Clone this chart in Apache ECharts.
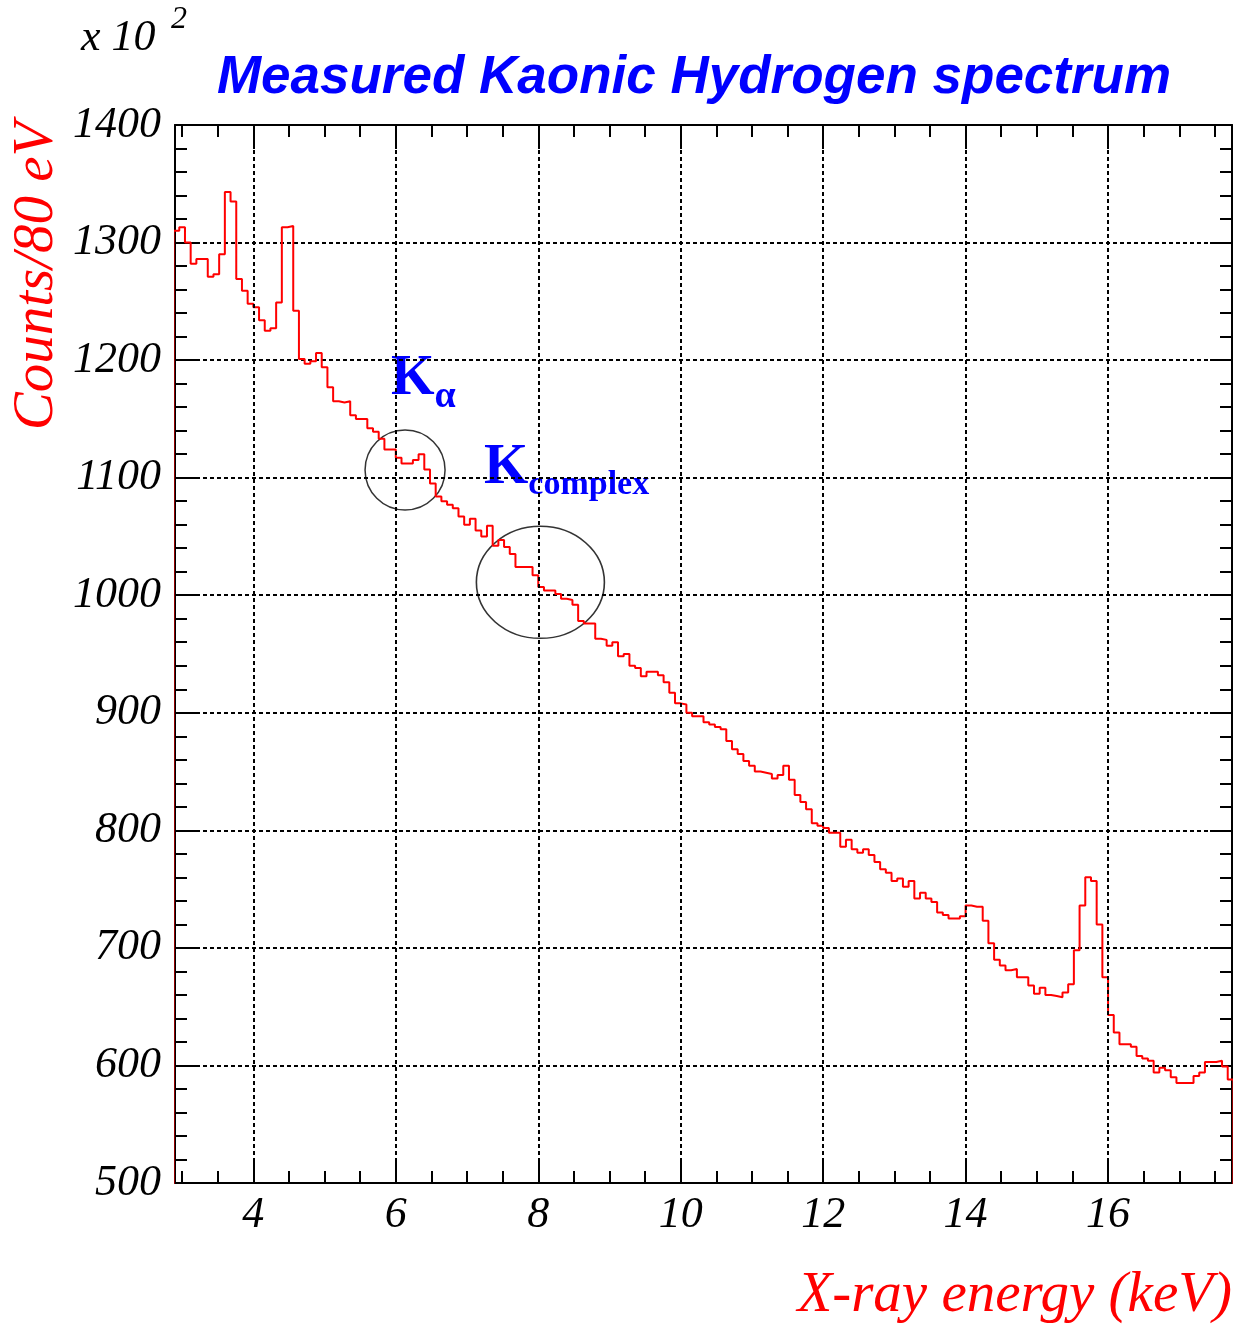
<!DOCTYPE html>
<html>
<head>
<meta charset="utf-8">
<script src="https://cdn.jsdelivr.net/npm/echarts@6/dist/echarts.min.js"></script>
<style>
html,body{margin:0;padding:0;background:#ffffff;}
#c{width:1235px;height:1324px;}
</style>
</head>
<body>
<div id="c"></div>
<script>
// ---- data (counts per 80 eV bin, in units of 10^2) ----
const binStart = 2.88;   // keV, left edge of first bin
const binWidth = 0.08;   // keV
const counts = [
  1310,1313,1300,1282,1286,1286,1271,1273,1290,1343,
  1335,1269,1259,1248,1245,1234,1225,1227,1249,1313,
  1314,1242,1201,1197,1199,1206,1194,1177,1165,1164,
  1165,1153,1150,1150,1142,1139,1133,1124,1124,1117,
  1112,1112,1115,1120,1107,1095,1084,1080,1077,1074,
  1067,1060,1065,1055,1050,1059,1042,1047,1041,1035,
  1024,1024,1024,1017,1007,1004,1004,1001,997,996,
  992,978,976,976,963,962,957,960,948,950,
  940,938,931,935,935,932,926,917,908,907,
  900,897,897,892,890,888,886,876,869,865,
  859,855,850,849,848,844,847,855,843,830,
  824,818,806,804,802,798,798,786,792,784,
  781,784,779,773,767,764,757,759,752,757,
  742,747,742,739,730,728,725,725,727,736,
  735,735,723,704,690,685,681,682,675,675,
  668,661,666,660,659,658,662,669,698,736,
  760,757,720,675,643,628,618,618,616,608,
  606,604,594,598,596,590,585,585,585,591,
  594,603,603,604,599,588
];
const xRange = [2.9, 17.74];
const yRange = [500, 1400];
const xMajorTicks = [4, 6, 8, 10, 12, 14, 16];
const xMinorTicks = [3, 3.5, 4.5, 5, 5.5, 6.5, 7, 7.5, 8.5, 9, 9.5, 10.5, 11, 11.5, 12.5, 13, 13.5, 14.5, 15, 15.5, 16.5, 17, 17.5];
const ellipseCenters = [[6.13, 1106.5], [8.03, 1011]];

const titleText = 'Measured Kaonic Hydrogen spectrum';
const yTitle = 'Counts/80 eV';
const xTitle = 'X-ray energy (keV)';
const scaleText = 'x 10';
const scaleExp = '2';

// ---- build histogram outline ----
const histPts = [[binStart, 0]];
counts.forEach((v, i) => histPts.push([+(binStart + i * binWidth).toFixed(3), v]));
const lastEdge = +(binStart + counts.length * binWidth).toFixed(3);
histPts.push([lastEdge, counts[counts.length - 1]]);
histPts.push([lastEdge, 0]);

const serif = 'Liberation Serif';
const labelFont = {fontFamily: serif, fontStyle: 'italic', fontSize: 44, color: '#000'};
const gridDash = {color: '#000', width: 2, type: [4, 3]};

function xAx(position, ticks, len, showLabel, showLine) {
  return {
    type: 'value', min: xRange[0], max: xRange[1], position: position,
    axisLine: {show: showLine, onZero: false, lineStyle: {color: '#000', width: 2}},
    axisTick: {show: true, inside: true, length: len, customValues: ticks, lineStyle: {color: '#000', width: 2}},
    axisLabel: showLabel ? Object.assign({show: true, margin: 10, customValues: xMajorTicks, formatter: v => String(v)}, labelFont) : {show: false},
    splitLine: {show: false}
  };
}

const option = {
  backgroundColor: '#ffffff',
  animation: false,
  grid: {left: 175, right: 3, top: 125, bottom: 141},
  xAxis: [
    xAx('bottom', xMajorTicks, 24, true, true),
    xAx('bottom', xMinorTicks, 12, false, false),
    xAx('top', xMajorTicks, 24, false, true),
    xAx('top', xMinorTicks, 12, false, false)
  ],
  yAxis: [
    {
      type: 'value', min: yRange[0], max: yRange[1], interval: 100, position: 'left',
      axisLine: {show: true, onZero: false, lineStyle: {color: '#000', width: 2}},
      axisTick: {show: true, inside: true, length: 22, lineStyle: {color: '#000', width: 2}},
      minorTick: {show: true, splitNumber: 5, length: 12, lineStyle: {color: '#000', width: 2}},
      axisLabel: Object.assign({show: true, margin: 14, formatter: v => String(v)}, labelFont),
      splitLine: {show: true, lineStyle: gridDash}
    },
    {
      type: 'value', min: yRange[0], max: yRange[1], interval: 100, position: 'right',
      axisLine: {show: true, onZero: false, lineStyle: {color: '#000', width: 2}},
      axisTick: {show: true, inside: true, length: 22, lineStyle: {color: '#000', width: 2}},
      minorTick: {show: true, splitNumber: 5, length: 12, lineStyle: {color: '#000', width: 2}},
      axisLabel: {show: false},
      splitLine: {show: false}
    }
  ],
  series: [
    {
      type: 'line', xAxisIndex: 0, yAxisIndex: 0, data: [], silent: true,
      markLine: {
        silent: true, symbol: ['none', 'none'], label: {show: false},
        lineStyle: gridDash,
        data: xMajorTicks.map(v => ({xAxis: v}))
      }
    },
    {
      type: 'line', xAxisIndex: 0, yAxisIndex: 0, step: 'end', data: histPts,
      showSymbol: false, symbol: 'none', clip: true, silent: true,
      lineStyle: {color: '#ff0000', width: 2}
    },
    {
      type: 'scatter', xAxisIndex: 0, yAxisIndex: 0, silent: true,
      data: ellipseCenters,
      symbol: 'circle',
      symbolSize: (val, p) => p.dataIndex === 0 ? [80, 80] : [128, 112],
      itemStyle: {color: 'rgba(0,0,0,0)', borderColor: '#000', borderWidth: 1.5}
    }
  ],
  graphic: [
    {type: 'text', x: 694, y: 78, silent: true,
     style: {text: titleText, align: 'center', verticalAlign: 'middle',
             font: 'italic bold 53px "Liberation Sans"', fill: '#0000ff'}},
    {type: 'text', x: 81, y: 38, silent: true,
     style: {text: scaleText, align: 'left', verticalAlign: 'middle',
             font: 'italic 44px "Liberation Serif"', fill: '#000'}},
    {type: 'text', x: 171, y: 20, silent: true,
     style: {text: scaleExp, align: 'left', verticalAlign: 'middle',
             font: 'italic 32px "Liberation Serif"', fill: '#000'}},
    {type: 'text', x: 37, y: 276, rotation: Math.PI / 2, silent: true,
     style: {text: yTitle, align: 'center', verticalAlign: 'middle',
             font: 'italic 57px "Liberation Serif"', fill: '#ff0000'}},
    {type: 'text', x: 1232, y: 1296, silent: true,
     style: {text: xTitle, align: 'right', verticalAlign: 'middle',
             font: 'italic 57px "Liberation Serif"', fill: '#ff0000'}},
    {type: 'text', x: 391, y: 352, silent: true,
     style: {text: '{k|K}{s|α}', align: 'left', verticalAlign: 'top',
             rich: {
               k: {fontFamily: serif, fontWeight: 'bold', fontSize: 56, fill: '#0000ff', color: '#0000ff', verticalAlign: 'bottom', padding: [0, 0, 8, 0]},
               s: {fontFamily: serif, fontWeight: 'bold', fontSize: 38, fill: '#0000ff', color: '#0000ff', verticalAlign: 'bottom'}
             }}},
    {type: 'text', x: 484, y: 440, silent: true,
     style: {text: '{k|K}{s|complex}', align: 'left', verticalAlign: 'top',
             rich: {
               k: {fontFamily: serif, fontWeight: 'bold', fontSize: 57, fill: '#0000ff', color: '#0000ff', verticalAlign: 'bottom', padding: [0, 0, 5, 0]},
               s: {fontFamily: serif, fontWeight: 'bold', fontSize: 34, fill: '#0000ff', color: '#0000ff', verticalAlign: 'bottom'}
             }}}
  ]
};

const chart = echarts.init(document.getElementById('c'));
chart.setOption(option);
</script>
</body>
</html>
